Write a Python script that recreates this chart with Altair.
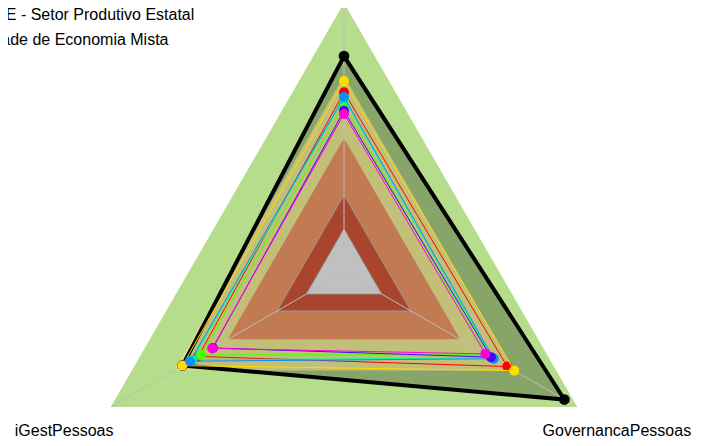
import math
import altair as alt
import pandas as pd

# ---------------- data ----------------
axis_angles = [90, 210, 330]          # axis 0 at the top (its name lies above the picture)
axis_labels = ["iGestPessoas", "GovernancaPessoas"]
axis_label_index = [1, 2]

series_names = ["Referência", "Série 1", "Série 2", "Série 3", "Série 4", "Série 5", "Série 6", "Série 7"]
series_colors = ["#000000", "#FF0000", "#FFDB00", "#49FF00", "#00FF92", "#0092FF", "#4900FF", "#FF00DB"]
s_ref = [0.803, 0.692, 0.945]
s_1 = [0.669, 0.625, 0.700]
s_2 = [0.710, 0.693, 0.730]
s_3 = [0.621, 0.613, 0.612]
s_4 = [0.645, 0.650, 0.635]
s_5 = [0.651, 0.660, 0.642]
s_6 = [0.600, 0.562, 0.630]
s_7 = [0.588, 0.565, 0.606]
series_values = [s_ref, s_1, s_2, s_3, s_4, s_5, s_6, s_7]

band_levels = [1.0, 0.73, 0.498, 0.287, 0.161]
band_colors = ["#B5DD8B", "#FEDA87", "#C17A52", "#A9442D", "#C0C0C0"]
band_opacity = [1.0, 0.5, 1.0, 1.0, 1.0]

legend_lines = ["SE - Setor Produtivo Estatal", "Sociedade de Economia Mista"]

# ---------------- geometry helpers ----------------
def polygon(values, name):
    rows = []
    for k, (v, a) in enumerate(zip(values, axis_angles)):
        t = math.radians(a)
        rows.append({"name": name, "k": k, "x": v * math.cos(t), "y": v * math.sin(t)})
    return pd.DataFrame(rows)

W, H = 685, 430
R = 269.3
cx, cy = 336.0, 264.3
xs = alt.Scale(domain=[-cx / R, (W - cx) / R], nice=False, zero=False)
ys = alt.Scale(domain=[-(H - cy) / R, cy / R], nice=False, zero=False)
X = alt.X("x:Q", scale=xs, axis=None)
Y = alt.Y("y:Q", scale=ys, axis=None)

layers = []

# outer band
layers.append(alt.Chart(polygon([band_levels[0]] * 3, "b0")).mark_line(
    interpolate="linear-closed", fill=band_colors[0], fillOpacity=1, strokeOpacity=0
).encode(X, Y, order="k:Q"))

# reference series fill
layers.append(alt.Chart(polygon(s_ref, "ref")).mark_line(
    interpolate="linear-closed", fill="#000000", fillOpacity=0.25, strokeOpacity=0
).encode(X, Y, order="k:Q"))

# inner bands
for i in range(1, len(band_levels)):
    layers.append(alt.Chart(polygon([band_levels[i]] * 3, f"b{i}")).mark_line(
        interpolate="linear-closed", fill=band_colors[i], fillOpacity=band_opacity[i], strokeOpacity=0
    ).encode(X, Y, order="k:Q"))

# band outlines
for i in [3, 4]:
    layers.append(alt.Chart(polygon([band_levels[i]] * 3, f"o{i}")).mark_line(
        interpolate="linear-closed", stroke="#9C9C9C", strokeWidth=0.9
    ).encode(X, Y, order="k:Q"))

# spokes
spoke_rows = []
for j, a in enumerate(axis_angles):
    t = math.radians(a)
    spoke_rows.append({"axis": j, "k": 0, "x": 0.0, "y": 0.0})
    spoke_rows.append({"axis": j, "k": 1, "x": math.cos(t), "y": math.sin(t)})
layers.append(alt.Chart(pd.DataFrame(spoke_rows)).mark_line(
    stroke="#BDBDBD", strokeWidth=1
).encode(X, Y, detail="axis:N", order="k:Q"))

# series
for i, (vals, name, col) in enumerate(zip(series_values, series_names, series_colors)):
    df = polygon(vals, name)
    lw = 4 if i == 0 else 1
    sz = 115 if i == 0 else 100
    layers.append(alt.Chart(df).mark_line(
        interpolate="linear-closed", stroke=col, strokeWidth=lw
    ).encode(X, Y, order="k:Q"))
    layers.append(alt.Chart(df).mark_circle(size=sz, color=col, opacity=1).encode(X, Y))

# axis labels at 1.2 * radius
for lab, idx, ddx in zip(axis_labels, axis_label_index, [0, -7]):
    t = math.radians(axis_angles[idx])
    d = pd.DataFrame({"x": [1.2 * math.cos(t)], "y": [1.2 * math.sin(t)], "t": [lab]})
    layers.append(alt.Chart(d).mark_text(
        font="Liberation Sans", fontSize=16, color="#000000", align="center", baseline="middle", dx=ddx, dy=-3
    ).encode(X, Y, text="t:N"))

# legend text (cut at the left edge, as in the original)
for txt, px, py in zip(legend_lines, [186.3, 160.5], [12, 37]):
    layers.append(alt.Chart(pd.DataFrame({"t": [txt]})).mark_text(
        font="Liberation Sans", fontSize=16, color="#000000", align="right", baseline="alphabetic"
    ).encode(text="t:N", x=alt.value(px), y=alt.value(py)))

chart = alt.layer(*layers).properties(
    width=W, height=H, padding=0, autosize=alt.AutoSizeParams(type="none")
).configure_view(stroke=None)

chart.save("out.html", embed_options={"renderer": "svg", "actions": False})
